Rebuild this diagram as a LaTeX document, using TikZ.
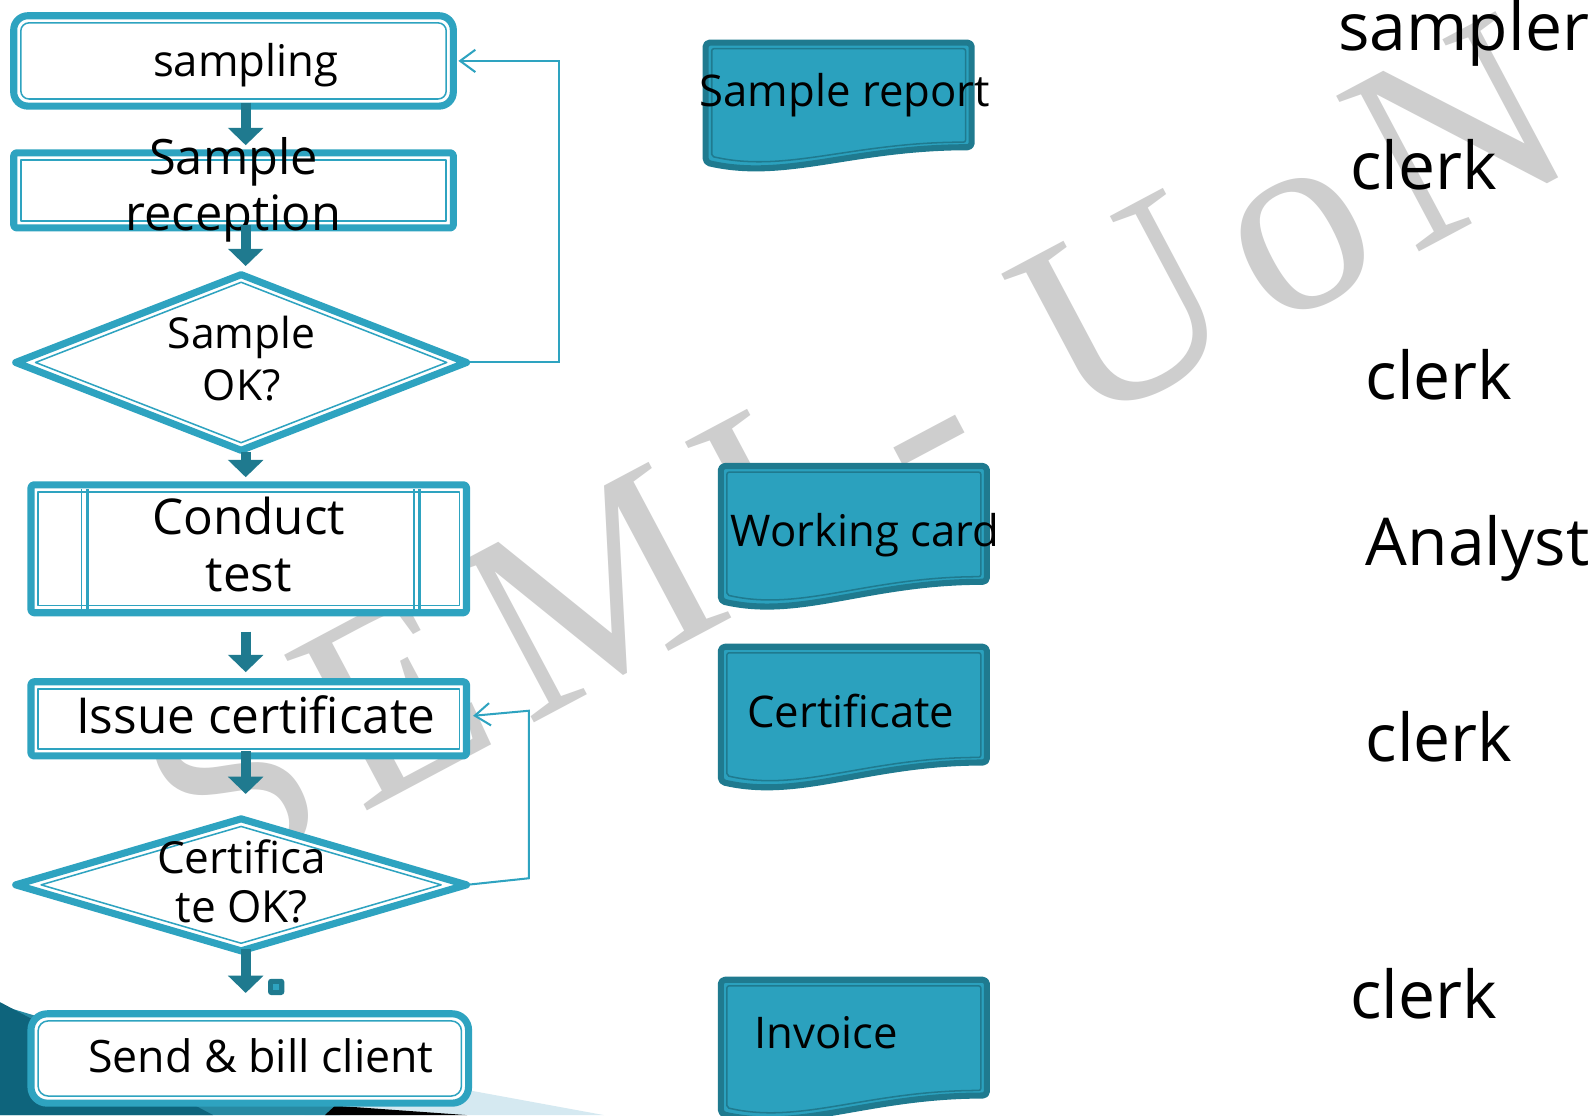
\documentclass[tikz,border=0pt]{standalone}
\usepackage{fontspec}
\setmainfont{Open Sans}
\newfontfamily\wmfont[LetterSpace=9]{Liberation Serif}
\usetikzlibrary{shapes.geometric,calc,arrows.meta}
\definecolor{tealL}{RGB}{46,163,192}
\definecolor{tealD}{RGB}{31,122,143}
\definecolor{docfill}{RGB}{43,161,190}
\definecolor{wmgray}{RGB}{206,206,206}
\definecolor{bgdark}{RGB}{14,100,124}
\definecolor{bglight}{RGB}{213,233,241}
% x0 x1 top yR yL
\newcommand\docshape[5]{%
 \path[doc] (#1,#3) -- (#2,#3) -- (#2,#4) .. controls ({#2-0.45*(#2-#1)},#4) and ({#1+0.3*(#2-#1)},{#5+18}) .. (#1,#5) -- cycle;
 \draw[docinner] ({#1+6},{#3+6}) -- ({#2-6},{#3+6}) -- ({#2-6},{#4-5}) .. controls ({#2-0.45*(#2-#1)},{#4-5}) and ({#1+0.3*(#2-#1)},{#5+11}) .. ({#1+6},{#5-6}) -- cycle;
}
\begin{document}
\begin{tikzpicture}[x=1pt,y=-1pt,
  box/.style={draw=tealL, line width=7pt, fill=white, inner sep=0pt, outer sep=0pt, line join=round},
  inln/.style={draw=tealL, line width=1.5pt, line join=round},
  dia/.style={box, diamond, shape aspect=2},
  diain/.style={inln, diamond, inner sep=0pt, outer sep=0pt, shape aspect=2},
  lab/.style={align=center, inner sep=0pt, text=black},
  flow/.style={draw=tealD, line width=10pt, -{Triangle[width=34pt,length=17pt]}},
  fb/.style={draw=tealL, line width=2pt, -{Straight Barb[length=15pt,width=22pt,line width=2pt]}},
  doc/.style={fill=docfill, draw=tealD, line width=6pt, rounded corners=4pt, line join=round},
  docinner/.style={draw=tealD, line width=1.5pt, rounded corners=2pt},
  doctext/.style={anchor=base, font=\fontsize{43}{50}\selectfont, inner sep=0pt},
  role/.style={anchor=base west, font=\fontsize{65}{70}\selectfont, inner sep=0pt},
]
\useasboundingbox (0,0) rectangle (1568,1098.3);
\fill[white] (0,0) rectangle (1568,1098.3);

% watermark
\node[font=\wmfont\fontsize{265}{265}\selectfont, text=wmgray, rotate=28, inner sep=0pt] (wm) at (842,446) {SEMI - UoN};

% slide background decoration (bottom left)
\fill[bglight] (430,1068) -- (595,1098.3) -- (300,1098.3) -- cycle;
\fill[tealL!85!black] (0,990) -- (340,1092) -- (335,1098.3) -- (0,1098.3) -- cycle;
\fill[bgdark] (0,987) -- (210,1098.3) -- (0,1098.3) -- cycle;
\fill[black] (330,1089) -- (460,1098.3) -- (320,1098.3) -- cycle;

% flowchart shapes
\node[box, rounded corners=14pt, minimum width=433pt, minimum height=89pt] (samp) at (230,60) {};
\draw[inln, rounded corners=8pt] ($(samp.north west)+(7,7)$) rectangle ($(samp.south east)+(-7,-7)$);

\node[box, rounded corners=3pt, minimum width=433pt, minimum height=74pt] (recp) at (230,187.5) {};
\draw[inln] ($(recp.north west)+(7,7)$) rectangle ($(recp.south east)+(-7,-7)$);

\node[dia, minimum width=444pt, minimum height=173pt] (d1) at (237.5,357) {};
\node[diain, minimum width=405pt, minimum height=158pt] (d1in) at (d1.center) {};

\node[box, rounded corners=3pt, minimum width=429pt, minimum height=126pt] (cond) at (245,540.5) {};
\draw[inln] ($(cond.north west)+(7,7)$) rectangle ($(cond.south east)+(-7,-7)$);
\draw[inln] ($(cond.north west)+(50,4)$) -- ($(cond.south west)+(50,-4)$);
\draw[draw=tealL, line width=3pt] ($(cond.north west)+(56,4)$) -- ($(cond.south west)+(56,-4)$);
\draw[inln] ($(cond.north east)+(-52,4)$) -- ($(cond.south east)+(-52,-4)$);
\draw[draw=tealL, line width=3pt] ($(cond.north east)+(-46,4)$) -- ($(cond.south east)+(-46,-4)$);

\node[box, rounded corners=3pt, minimum width=429pt, minimum height=73pt] (issue) at (245,708) {};
\draw[inln] ($(issue.north west)+(7,7)$) rectangle ($(issue.south east)+(-7,-7)$);

\node[dia, minimum width=444pt, minimum height=130pt] (d2) at (237.5,871.5) {};
\node[diain, minimum width=394pt, minimum height=115pt] (d2in) at (d2.center) {};

\node[box, rounded corners=16pt, minimum width=431pt, minimum height=88pt] (send) at (246,1042.5) {};
\draw[inln, rounded corners=10pt] ($(send.north west)+(7,7)$) rectangle ($(send.south east)+(-7,-7)$);

% texts
\node[lab, anchor=base, font=\fontsize{43}{50}\selectfont] (sampT) at (242,75) {sampling};
\node[lab, font=\fontsize{48}{55}\selectfont] (recpT) at (230,187) {Sample\\reception};
\node[lab, font=\fontsize{42}{51}\selectfont] (d1T) at (238,353) {Sample\\OK?};
\node[lab, font=\fontsize{48.6}{56}\selectfont] (condT) at (245,536.5) {Conduct\\test};
\node[lab, anchor=base, font=\fontsize{48.8}{55}\selectfont] (issueT) at (252,722) {Issue certificate};
\node[lab, font=\fontsize{43.5}{49}\selectfont] (d2T) at (238,868) {Certifica\\te OK?};
\node[lab, anchor=base, font=\fontsize{44}{50}\selectfont] (sendT) at (257,1056) {Send \& bill client};

% block arrows
\draw[flow] ($(samp.south)+(12,-3.5)$) -- ($(recp.north)+(12,-7.5)$);
\draw[flow] ($(recp.south)+(12,-2.5)$) -- ($(d1.north)+(4.5,-8.5)$);
\draw[flow] ($(d1.south)+(4.5,1.5)$) -- ($(cond.north)+(-3,-7.5)$);
\draw[flow] ($(cond.south)+(-3,18.5)$) -- ($(issue.north)+(-3,-9.5)$);
\draw[flow] ($(issue.south)+(-3,-4.5)$) -- ($(d2.north)+(4.5,-24.5)$);
\draw[flow] ($(d2.south)+(4.5,-1.5)$) -- ($(send.north)+(-4,-20.5)$);
\node[fill=tealD, rounded corners=3pt, minimum size=16pt, inner sep=0pt] (mark) at (272,972) {};
\node[fill=tealL, minimum size=6pt, inner sep=0pt] (markin) at (mark.center) {};

% feedback loops
\draw[fb] (d1.east) -- ++(91.5,0) |- ($(samp.east)+(5,0)$);
\draw[fb] (d2.east) -- ++(61.5,-6.5) -- ++(0,-165) -- ($(issue.east)+(6.5,-3)$);

% documents
\docshape{695}{957}{42}{145}{160}
\node[doctext] (rep) at (832,105) {Sample report};
\docshape{710}{972}{459}{573}{592}
\node[doctext] (work) at (852,538) {Working card};
\docshape{710}{972}{637}{751}{770}
\node[doctext] (cert) at (838,717) {Certificate};
\docshape{710}{972}{965}{1079}{1097}
\node[doctext] (inv) at (814,1033) {Invoice};

% roles
\node[role] (r1) at (1318,50) {sampler};
\node[role] (r2) at (1330,187) {clerk};
\node[role] (r3) at (1345,393) {clerk};
\node[role] (r4) at (1345,557) {Analyst};
\node[role] (r5) at (1345,750) {clerk};
\node[role] (r6) at (1330,1003) {clerk};
\end{tikzpicture}
\end{document}
